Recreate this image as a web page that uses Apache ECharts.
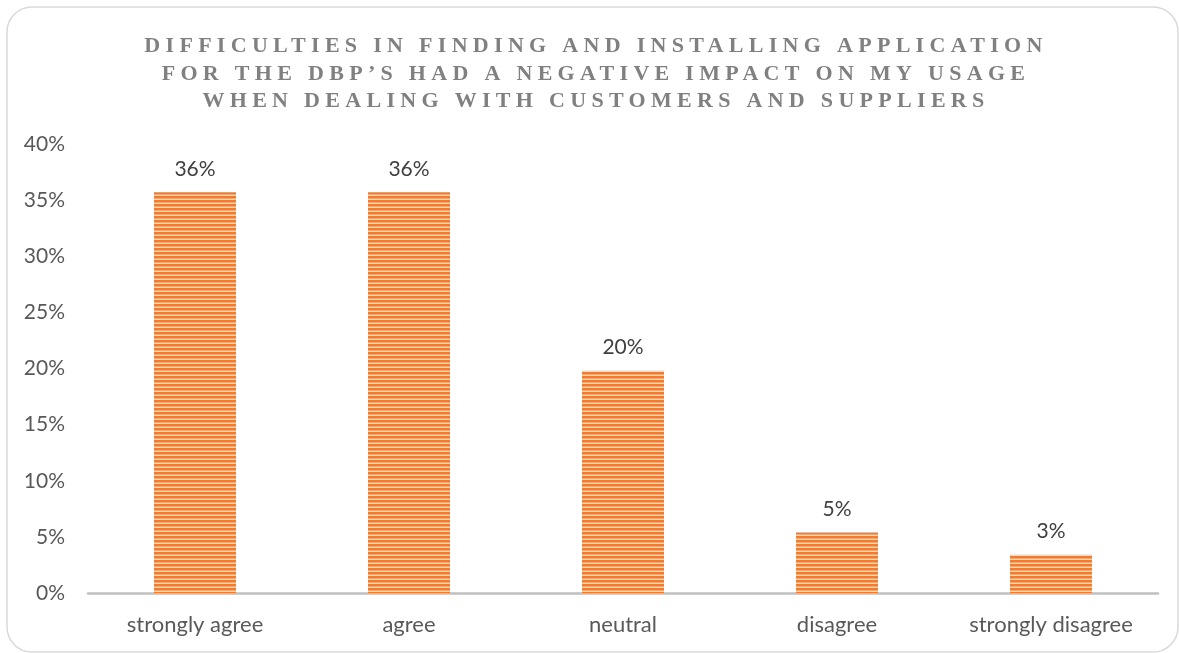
<!DOCTYPE html>
<html>
<head>
<meta charset="utf-8">
<title>Difficulties in finding and installing application</title>
<script src="https://cdn.jsdelivr.net/npm/echarts@6/dist/echarts.min.js"></script>
<style>
  html, body { margin: 0; padding: 0; background: #ffffff; }
  #chart { width: 1179px; height: 653px; }
</style>
</head>
<body>
<div id="chart"></div>
<script>
// Survey answers (share of respondents)
const categories = ['strongly agree', 'agree', 'neutral', 'disagree', 'strongly disagree'];
const shares = [0.357, 0.357, 0.198, 0.054, 0.034];
const yTicks = { min: 0, max: 0.4, step: 0.05 };
const titleLines = [
  'DIFFICULTIES IN FINDING AND INSTALLING APPLICATION',
  'FOR THE DBP\u2019S HAD A NEGATIVE IMPACT ON MY USAGE',
  'WHEN DEALING WITH CUSTOMERS AND SUPPLIERS'
];

// Spaced-out capitals for the serif heading
const TITLE_FONT = 'Liberation Serif';
const TITLE_SPACING = 5.3;
const baseFillText = CanvasRenderingContext2D.prototype.fillText;
CanvasRenderingContext2D.prototype.fillText = function (t, x, y, w) {
  if (this.font && this.font.indexOf(TITLE_FONT) >= 0 && 'letterSpacing' in this) {
    const prev = this.letterSpacing;
    this.letterSpacing = TITLE_SPACING + 'px';
    const r = w === undefined ? baseFillText.call(this, t, x, y) : baseFillText.call(this, t, x, y, w);
    this.letterSpacing = prev;
    return r;
  }
  return w === undefined ? baseFillText.call(this, t, x, y) : baseFillText.call(this, t, x, y, w);
};

// Horizontal stripe fill for the bars
function stripeFill() {
  const rows = ['#ED7D31', '#ED7D31', '#F3A775', '#FAD7BF'];
  const c = document.createElement('canvas');
  c.width = 4; c.height = rows.length;
  const g = c.getContext('2d');
  rows.forEach((col, i) => { g.fillStyle = col; g.fillRect(0, i, 4, 1); });
  return c;
}

const pct = v => Math.round(v * 100) + '%';
const TEXT_FONT = 'Lato';

const chart = echarts.init(document.getElementById('chart'), null, { renderer: 'canvas' });
chart.setOption({
  animation: false,
  backgroundColor: '#ffffff',
  graphic: [{
    type: 'rect',
    z: -10,
    silent: true,
    shape: { x: 7, y: 7, width: 1171, height: 645, r: 25 },
    style: { fill: 'none', stroke: '#D9D9D9', lineWidth: 1.5 }
  }],
  title: {
    text: titleLines.join('\n'),
    left: 591,
    textAlign: 'center',
    top: 28,
    textStyle: {
      fontFamily: TITLE_FONT,
      fontWeight: 'bold',
      fontSize: 22,
      lineHeight: 27.5,
      color: '#808080'
    }
  },
  grid: { left: 88, right: 21, top: 144, bottom: 60, containLabel: false, outerBoundsMode: 'none' },
  xAxis: {
    type: 'category',
    data: categories,
    axisTick: { show: false },
    axisLine: { show: true, lineStyle: { color: '#C0C0C0', width: 2.5 } },
    axisLabel: { color: '#595959', fontFamily: TEXT_FONT, fontSize: 22, margin: 21 }
  },
  yAxis: {
    type: 'value',
    min: yTicks.min,
    max: yTicks.max,
    interval: yTicks.step,
    axisLine: { show: false },
    axisTick: { show: false },
    splitLine: { show: false },
    axisLabel: { color: '#595959', fontFamily: TEXT_FONT, fontSize: 21, margin: 23, formatter: pct }
  },
  series: [{
    type: 'bar',
    data: shares,
    barWidth: 82,
    itemStyle: { color: { image: stripeFill(), repeat: 'repeat' } },
    label: {
      show: true,
      position: 'top',
      distance: 13,
      color: '#404040',
      fontFamily: TEXT_FONT,
      fontSize: 21,
      formatter: p => pct(p.value)
    }
  }]
});
</script>
</body>
</html>
